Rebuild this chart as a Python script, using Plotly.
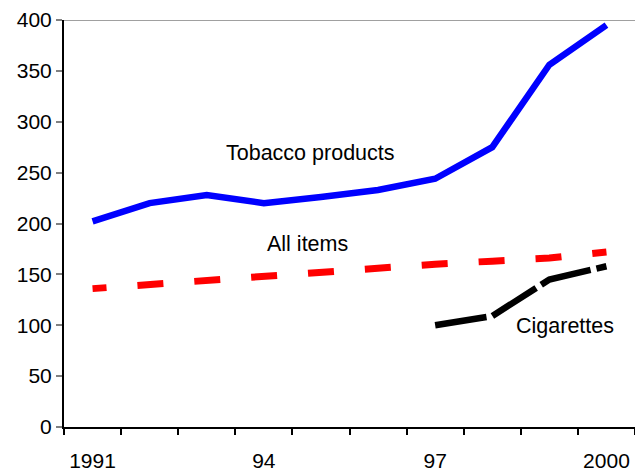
import plotly.graph_objects as go

years = [1991, 1992, 1993, 1994, 1995, 1996, 1997, 1998, 1999, 2000]
tobacco = [202, 220, 228, 220, 226, 233, 244, 275, 356, 395]
all_items = [136, 140, 144, 148, 152, 157, 160, 163, 166, 172]
cig_years = [1997, 1998, 1999, 2000]
cigarettes = [100, 109, 145, 158]
xtick_vals = [1991, 1994, 1997, 2000]
xtick_text = ["1991", "94", "97", "2000"]

fig = go.Figure()
fig.add_trace(go.Scatter(x=years, y=tobacco, mode="lines",
                         line=dict(color="#0000ff", width=6.5)))
fig.add_trace(go.Scatter(x=years, y=all_items, mode="lines",
                         line=dict(color="#ff0000", width=7, dash="14px,31px,26px,31px,26px,31px,26px,31px,26px,31px,26px,31px,26px,31px,26px,31px,26px,31px,26px,31px,26px,31px")))
fig.add_trace(go.Scatter(x=cig_years, y=cigarettes, mode="lines",
                         line=dict(color="#000000", width=6.5, dash="52px,6px")))

font = dict(family="Liberation Sans, Arial, sans-serif", size=21.5, color="black")
fig.add_annotation(x=1994.81, y=269, text="Tobacco products", showarrow=False, font=font)
fig.add_annotation(x=1994.76, y=180, text="All items", showarrow=False, font=font)
fig.add_annotation(x=1999.27, y=99.5, text="Cigarettes", showarrow=False, font=font)

fig.add_shape(type="line", xref="paper", yref="y", x0=0, x1=1, y0=400, y1=400,
              line=dict(color="#808080", width=1.5))

fig.update_layout(
    width=635, height=472,
    margin=dict(l=64, r=0, t=20, b=42),
    plot_bgcolor="white", paper_bgcolor="white",
    showlegend=False,
    font=dict(family="Liberation Sans, Arial, sans-serif", size=21, color="black"),
)
fig.update_xaxes(range=[1990.5, 2000.5], tickvals=xtick_vals, ticktext=xtick_text,
                 ticks="outside", ticklen=14, tickcolor="rgba(0,0,0,0)",
                 showgrid=False, zeroline=False, showline=True, linecolor="black",
                 linewidth=2,
                 minor=dict(tick0=1990.5, dtick=1, ticks="outside", ticklen=6,
                            tickcolor="black", tickwidth=1.5, showgrid=False))
fig.update_yaxes(range=[0, 400], dtick=50, ticks="outside", ticklen=6,
                 tickcolor="#808080", tickwidth=1.5,
                 showgrid=False, zeroline=False, showline=True, linecolor="black",
                 linewidth=2)

fig.write_html("out.html")
